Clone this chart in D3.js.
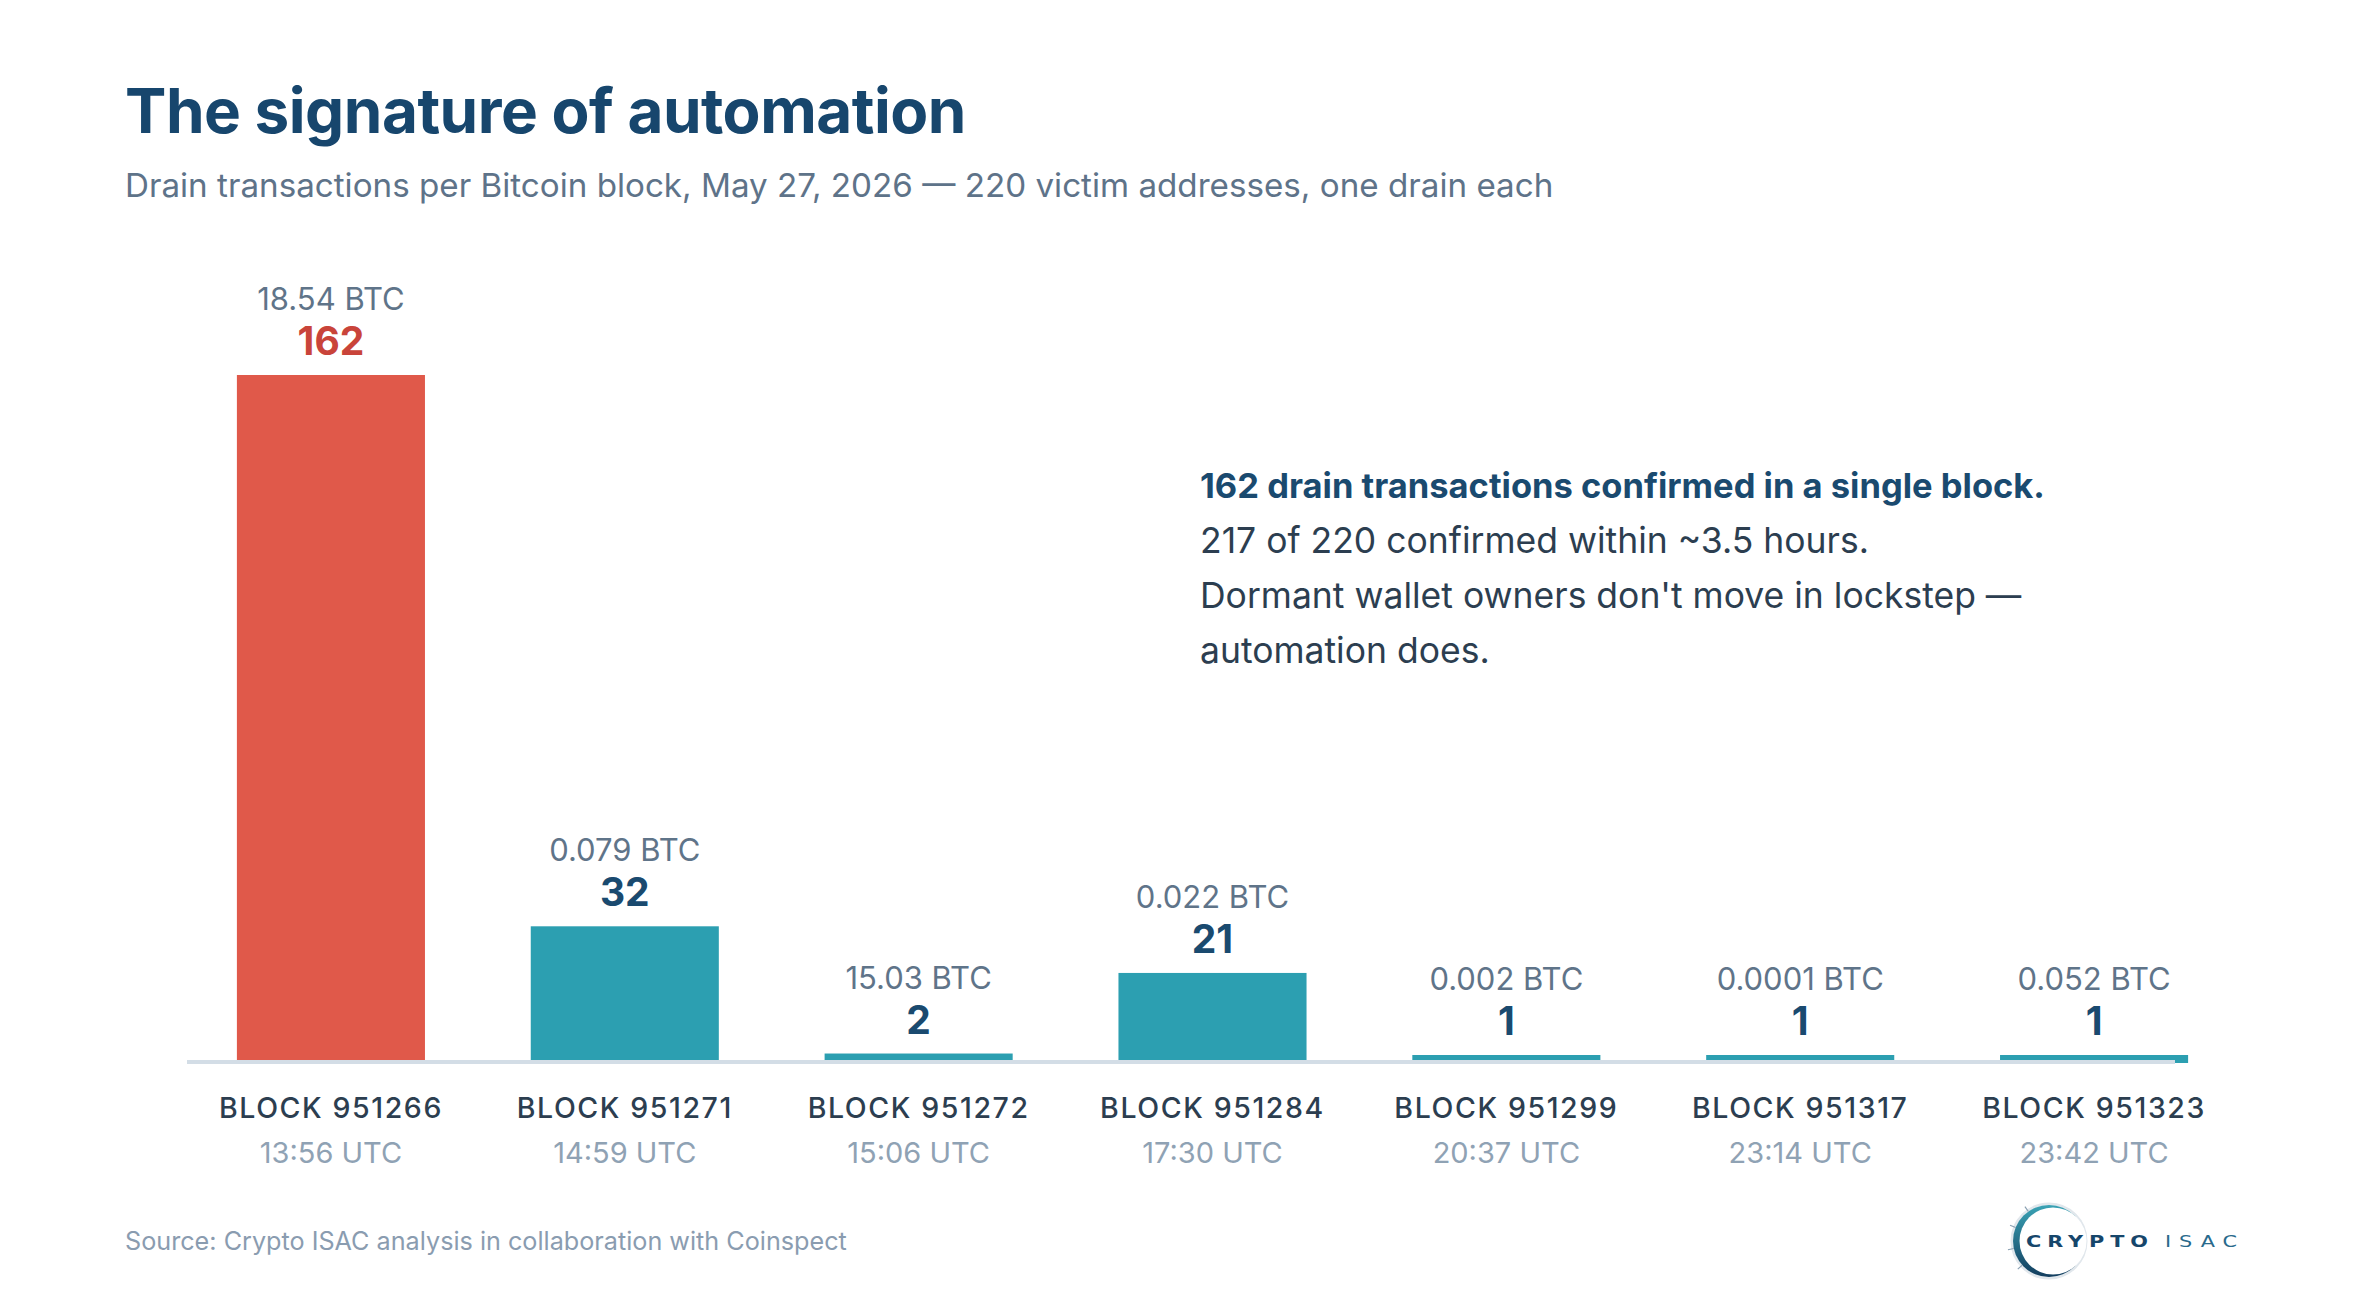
<!DOCTYPE html>
<html>
<head>
<meta charset="utf-8">
<script src="https://cdn.jsdelivr.net/npm/d3@7"></script>
<style>
  body { margin: 0; background: #fff; }
  svg { display: block; font-family: Inter, "Noto Sans", sans-serif; }
</style>
</head>
<body>
<div id="chart"></div>
<script>
// Drain transactions per block
const blocks = ["BLOCK 951266", "BLOCK 951271", "BLOCK 951272", "BLOCK 951284", "BLOCK 951299", "BLOCK 951317", "BLOCK 951323"];
const times = ["13:56 UTC", "14:59 UTC", "15:06 UTC", "17:30 UTC", "20:37 UTC", "23:14 UTC", "23:42 UTC"];
const drains = [162, 32, 2, 21, 1, 1, 1];
const btcAmounts = ["18.54 BTC", "0.079 BTC", "15.03 BTC", "0.022 BTC", "0.002 BTC", "0.0001 BTC", "0.052 BTC"];

const noteLines = [
  "162 drain transactions confirmed in a single block.",
  "217 of 220 confirmed within ~3.5 hours.",
  "Dormant wallet owners don't move in lockstep —",
  "automation does."
];

const width = 2362;
const height = 1312;
const baseY = 1062;
const minBar = 7; // tiny counts still get a visible sliver

const data = blocks.map((b, i) => ({ block: b, time: times[i], n: drains[i], btc: btcAmounts[i] }));
const peak = d3.max(drains);

const x = d3.scaleBand()
  .domain(blocks)
  .range([184, 2241])
  .paddingInner(0.36)
  .paddingOuter(0.18);

const y = d3.scaleLinear()
  .domain([0, peak])
  .range([baseY, 375]);

const barTop = d => Math.min(y(d.n), baseY - minBar);

const svg = d3.select("#chart")
  .append("svg")
  .attr("width", width)
  .attr("height", height)
  .attr("viewBox", [0, 0, width, height]);

svg.append("rect").attr("width", width).attr("height", height).attr("fill", "#fff");

// title + subtitle
svg.append("text")
  .attr("x", 125).attr("y", 133)
  .attr("fill", "#17466d")
  .attr("font-size", 62)
  .attr("font-weight", 700)
  .attr("letter-spacing", "-0.5")
  .text("The signature of automation");

svg.append("text")
  .attr("x", 125).attr("y", 197)
  .attr("fill", "#5e7389")
  .attr("font-size", 33.2)
  .text("Drain transactions per Bitcoin block, May 27, 2026 — 220 victim addresses, one drain each");

// bars
svg.append("g")
  .selectAll("rect")
  .data(data)
  .join("rect")
  .attr("x", d => x(d.block))
  .attr("y", barTop)
  .attr("width", x.bandwidth())
  .attr("height", d => baseY + 1 - barTop(d))
  .attr("fill", d => d.n === peak ? "#e0594a" : "#2c9fb1");

// baseline
svg.append("rect")
  .attr("x", 187).attr("y", baseY - 2)
  .attr("width", 2175 - 187).attr("height", 4)
  .attr("fill", "#d3dde6");

// value labels
const lbl = svg.append("g").attr("text-anchor", "middle");

lbl.selectAll(".count")
  .data(data)
  .join("text")
  .attr("class", "count")
  .attr("x", d => x(d.block) + x.bandwidth() / 2)
  .attr("y", d => barTop(d) - 20)
  .attr("font-size", 39)
  .attr("font-weight", 700)
  .attr("fill", d => d.n === peak ? "#c9443a" : "#1a4a6f")
  .text(d => d.n);

lbl.selectAll(".btc")
  .data(data)
  .join("text")
  .attr("class", "btc")
  .attr("x", d => x(d.block) + x.bandwidth() / 2)
  .attr("y", d => barTop(d) - 65)
  .attr("font-size", 31)
  .attr("fill", "#5f7489")
  .text(d => d.btc);

// category labels
lbl.selectAll(".blk")
  .data(data)
  .join("text")
  .attr("class", "blk")
  .attr("x", d => x(d.block) + x.bandwidth() / 2)
  .attr("y", 1117.5)
  .attr("font-size", 28.5)
  .attr("font-weight", 500)
  .attr("letter-spacing", "1.6")
  .attr("fill", "#2c3e50")
  .text(d => d.block);

lbl.selectAll(".tm")
  .data(data)
  .join("text")
  .attr("class", "tm")
  .attr("x", d => x(d.block) + x.bandwidth() / 2)
  .attr("y", 1162.5)
  .attr("font-size", 29)
  .attr("fill", "#8fa2b4")
  .text(d => d.time);

// annotation
svg.append("g")
  .selectAll("text")
  .data(noteLines)
  .join("text")
  .attr("x", 1200)
  .attr("y", (d, i) => 498 + i * 55)
  .attr("font-size", (d, i) => i === 0 ? 34.5 : 35.5)
  .attr("font-weight", (d, i) => i === 0 ? 700 : 400)
  .attr("fill", (d, i) => i === 0 ? "#1a4a6f" : "#2c3e50")
  .text(d => d);

// source
svg.append("text")
  .attr("x", 125).attr("y", 1250)
  .attr("font-size", 25.2)
  .attr("fill", "#8a9cb0")
  .text("Source: Crypto ISAC analysis in collaboration with Coinspect");

// logo
const logo = svg.append("g").attr("transform", "translate(2049,1241)");
const defs = svg.append("defs");
const grad = defs.append("linearGradient").attr("id", "ring").attr("x1", "0").attr("y1", "0").attr("x2", "0").attr("y2", "1");
grad.append("stop").attr("offset", "0%").attr("stop-color", "#3aa3b5");
grad.append("stop").attr("offset", "100%").attr("stop-color", "#123d5e");

logo.append("circle").attr("r", 37).attr("fill", "none").attr("stroke", "#e1e7ec").attr("stroke-width", 3);
logo.append("circle").attr("r", 36).attr("fill", "url(#ring)");
logo.append("circle").attr("cx", 4).attr("r", 33.5).attr("fill", "#fff");
logo.selectAll("line")
  .data([-55, -22, 12, 42])
  .join("line")
  .attr("x1", d => -36 * Math.cos(d * Math.PI / 180))
  .attr("y1", d => 36 * Math.sin(d * Math.PI / 180))
  .attr("x2", d => -42 * Math.cos(d * Math.PI / 180))
  .attr("y2", d => 42 * Math.sin(d * Math.PI / 180))
  .attr("stroke", "#8aa0b2")
  .attr("stroke-width", 1.2);

// wordmark: an extended face, faked by stretching horizontally
const sx = 1.3;
const word = logo.append("g")
  .attr("transform", `scale(${sx},1)`)
  .attr("font-family", "'DejaVu Sans', sans-serif")
  .attr("font-size", 16);

word.append("text")
  .attr("x", -23 / sx).attr("y", 6)
  .attr("font-weight", 700)
  .attr("textLength", 122 / sx)
  .attr("lengthAdjust", "spacing")
  .attr("fill", "#16466b")
  .text("CRYPTO");

word.append("text")
  .attr("x", 116 / sx).attr("y", 6)
  .attr("font-weight", 400)
  .attr("textLength", 72 / sx)
  .attr("lengthAdjust", "spacing")
  .attr("fill", "#2a6a8c")
  .text("ISAC");
</script>
</body>
</html>
